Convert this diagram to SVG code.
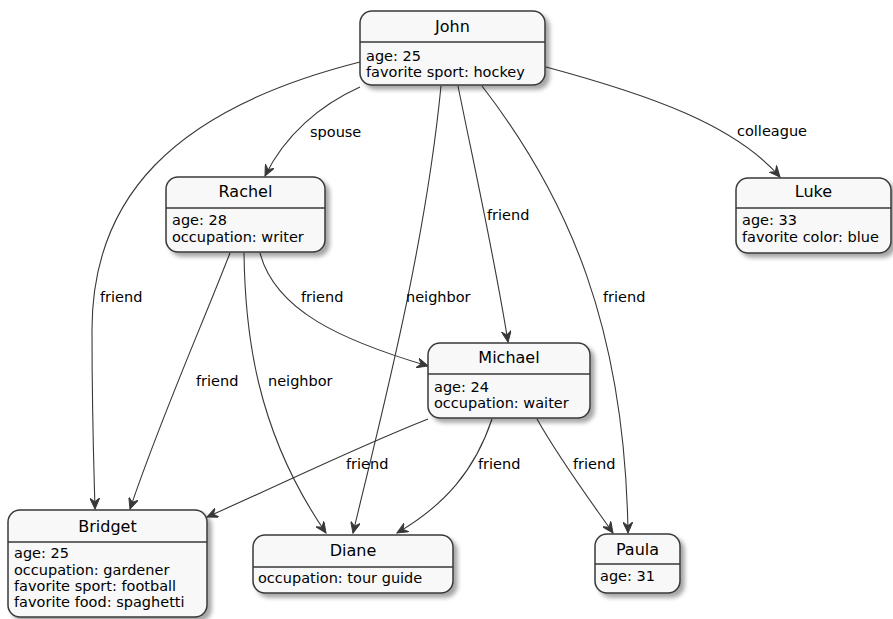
<svg xmlns="http://www.w3.org/2000/svg" width="893" height="619" viewBox="0 0 893 619">
<defs>
<filter id="sh" x="-10%" y="-10%" width="130%" height="140%">
<feDropShadow dx="4" dy="4" stdDeviation="2" flood-color="#000" flood-opacity="0.35"/>
</filter>
<marker id="arr" viewBox="0 0 12 10" refX="11" refY="5" markerWidth="12" markerHeight="10" markerUnits="userSpaceOnUse" orient="auto">
<path d="M0,0 L11,5 L0,10 L4,5 Z" fill="#383838" stroke="#383838" stroke-width="1"/>
</marker>
</defs>
<style>
.box{fill:#F8F8F8;stroke:#383838;stroke-width:1.5;filter:url(#sh)}
.div{stroke:#383838;stroke-width:1.5}
.t{font-family:"DejaVu Sans",sans-serif;font-size:16px;fill:#000;text-anchor:middle}
.b{font-family:"DejaVu Sans",sans-serif;font-size:14.5px;fill:#000}
.e{fill:none;stroke:#383838;stroke-width:1.1;marker-end:url(#arr)}
.l{font-family:"DejaVu Sans",sans-serif;font-size:14.5px;fill:#000}
</style>
<g id="connectors">
<path class="e" d="M360,87 C320,105 285,135 265,176"/>
<text class="l" x="310" y="137">spouse</text>
<path class="e" d="M546,67 C650,95 735,125 780,177"/>
<text class="l" x="737" y="136">colleague</text>
<path class="e" d="M360,62 C170,110 92,200 92,330 C92,420 94,470 95,509"/>
<text class="l" x="100" y="302">friend</text>
<path class="e" d="M230,253 C200,330 160,420 130,509"/>
<text class="l" x="196" y="386">friend</text>
<path class="e" d="M244,253 C245,330 255,430 326,533"/>
<text class="l" x="268" y="386">neighbor</text>
<path class="e" d="M260,253 C275,310 340,340 428,366"/>
<text class="l" x="301" y="302">friend</text>
<path class="e" d="M441,86 C425,250 380,420 353,533"/>
<text class="l" x="406" y="302">neighbor</text>
<path class="e" d="M458,86 C475,170 495,260 508,342"/>
<text class="l" x="487" y="220">friend</text>
<path class="e" d="M482,86 C570,200 625,330 628,533"/>
<text class="l" x="603" y="302">friend</text>
<path class="e" d="M428,419 C350,450 280,485 207,517"/>
<text class="l" x="346" y="469">friend</text>
<path class="e" d="M492,419 C475,470 445,505 397,533"/>
<text class="l" x="478" y="469">friend</text>
<path class="e" d="M537,419 C560,460 590,500 613,533"/>
<text class="l" x="573" y="469">friend</text>
</g>
<g id="John">
<rect class="box" x="360" y="11" width="185" height="74" rx="12"/>
<line class="div" x1="360" y1="42" x2="545" y2="42"/>
<text class="t" x="452.5" y="32">John</text>
<text class="b" x="366" y="61">age: 25</text>
<text class="b" x="366" y="77">favorite sport: hockey</text>
</g>
<g id="Rachel">
<rect class="box" x="166" y="177" width="159" height="75" rx="12"/>
<line class="div" x1="166" y1="208" x2="325" y2="208"/>
<text class="t" x="245.5" y="197">Rachel</text>
<text class="b" x="172" y="225">age: 28</text>
<text class="b" x="172" y="242">occupation: writer</text>
</g>
<g id="Luke">
<rect class="box" x="736" y="178" width="155" height="75" rx="12"/>
<line class="div" x1="736" y1="208" x2="891" y2="208"/>
<text class="t" x="813.5" y="197">Luke</text>
<text class="b" x="742" y="225">age: 33</text>
<text class="b" x="742" y="242">favorite color: blue</text>
</g>
<g id="Michael">
<rect class="box" x="428" y="343" width="162" height="75" rx="12"/>
<line class="div" x1="428" y1="374" x2="590" y2="374"/>
<text class="t" x="509" y="363">Michael</text>
<text class="b" x="434" y="392">age: 24</text>
<text class="b" x="434" y="408">occupation: waiter</text>
</g>
<g id="Bridget">
<rect class="box" x="8" y="510" width="199" height="107" rx="12"/>
<line class="div" x1="8" y1="542" x2="207" y2="542"/>
<text class="t" x="107.5" y="532">Bridget</text>
<text class="b" x="14" y="558">age: 25</text>
<text class="b" x="14" y="575">occupation: gardener</text>
<text class="b" x="14" y="591">favorite sport: football</text>
<text class="b" x="14" y="607">favorite food: spaghetti</text>
</g>
<g id="Diane">
<rect class="box" x="253" y="535" width="200" height="58" rx="12"/>
<line class="div" x1="253" y1="567" x2="453" y2="567"/>
<text class="t" x="353" y="556">Diane</text>
<text class="b" x="258" y="583">occupation: tour guide</text>
</g>
<g id="Paula">
<rect class="box" x="595" y="534" width="85" height="59" rx="12"/>
<line class="div" x1="595" y1="564" x2="680" y2="564"/>
<text class="t" x="637.5" y="555">Paula</text>
<text class="b" x="600" y="581">age: 31</text>
</g>
</svg>
